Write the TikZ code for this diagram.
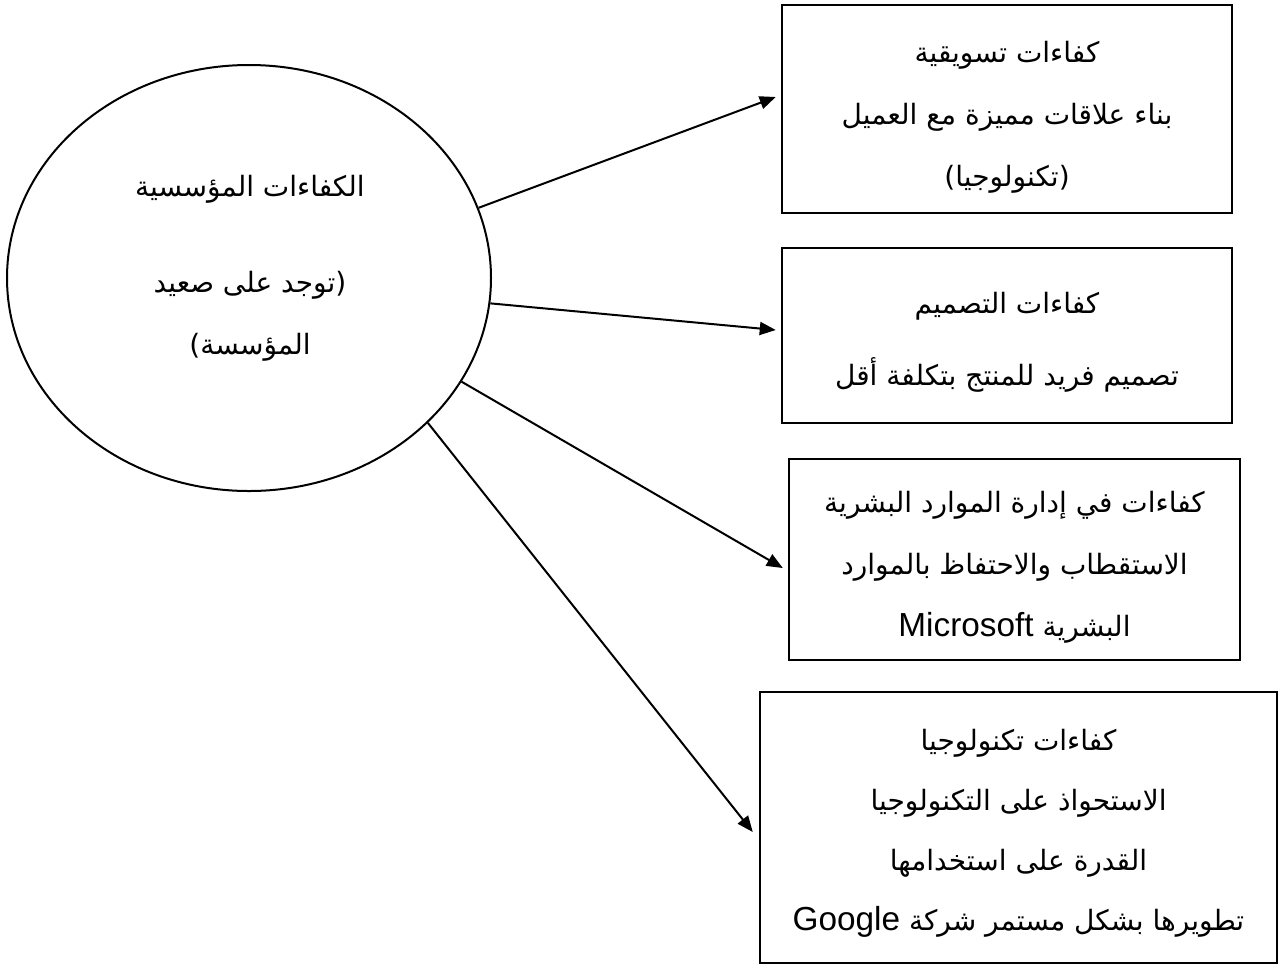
\documentclass[tikz,border=0pt]{standalone}
\usepackage{fontspec}
\usetikzlibrary{arrows.meta,calc,shapes.geometric}
\TeXXeTstate=1
\newfontfamily\arabicfont[Script=Arabic]{DejaVu Sans}
\newfontfamily\latinfont[Scale=1.19]{Liberation Sans}
\newcommand{\rtlline}[1]{\beginR #1\endR}
\newcommand{\latinword}[1]{\beginL{\latinfont #1}\endL}

\begin{document}
\begin{tikzpicture}[x=1pt,y=-1pt,
  txt/.style={align=center,inner sep=0pt,font=\arabicfont\fontsize{28}{62}\selectfont},
  box/.style={draw,rectangle,line width=2.5pt,inner sep=0pt},
  link/.style={line width=2pt,-{Triangle[length=16pt,width=13pt]}}]
\useasboundingbox (0,0) rectangle (1279,967);

% central ellipse and its caption
\node[draw,ellipse,line width=2pt,inner sep=0pt,minimum width=484pt,minimum height=426pt] (org) at (249,278) {};
\node[txt] (orgtext) at (250,268) {\rtlline{الكفاءات المؤسسية}\\[34pt]\rtlline{(توجد على صعيد}\\\rtlline{المؤسسة)}};

% competence boxes
\node[box,minimum width=450pt,minimum height=208pt] (b1) at (1007,109) {};
\node[box,minimum width=450pt,minimum height=175pt] (b2) at (1007,335.5) {};
\node[box,minimum width=451pt,minimum height=201pt] (b3) at (1014.5,559.5) {};
\node[box,minimum width=517pt,minimum height=271pt] (b4) at (1018.5,827.5) {};

% box captions
\node[txt] (b1text) at ($(b1)+(0,8)$)
  {\rtlline{كفاءات تسويقية}\\\rtlline{بناء علاقات مميزة مع العميل}\\\rtlline{(تكنولوجيا)}};
\node[txt,font=\arabicfont\fontsize{28}{72}\selectfont] (b2text) at ($(b2)+(0,7)$)
  {\rtlline{كفاءات التصميم}\\\rtlline{تصميم فريد للمنتج بتكلفة أقل}};
\node[txt] (b3text) at ($(b3)+(0,8)$)
  {\rtlline{كفاءات في إدارة الموارد البشرية}\\\rtlline{الاستقطاب والاحتفاظ بالموارد}\\\rtlline{البشرية \latinword{Microsoft}}};
\node[txt,font=\arabicfont\fontsize{28}{60}\selectfont] (b4text) at ($(b4)+(0,6)$)
  {\rtlline{كفاءات تكنولوجيا}\\\rtlline{الاستحواذ على التكنولوجيا}\\\rtlline{القدرة على استخدامها}\\\rtlline{تطويرها بشكل مستمر شركة \latinword{Google}}};

% arrow tips stop just short of the boxes
\coordinate (t1) at ($(b1.west)+(-5,-12)$);
\coordinate (t2) at ($(b2.west)+(-5,-5.5)$);
\coordinate (t3) at ($(b3.west)+(-5,8.5)$);
\coordinate (t4) at ($(b4.west)+(-6,4.5)$);

\draw[link] (org.17) -- (t1);
\draw[link] (org.-6) -- (t2);
\draw[link] (org.-26) -- (t3);
\draw[link] (org.-39) -- (t4);
\end{tikzpicture}
\end{document}
